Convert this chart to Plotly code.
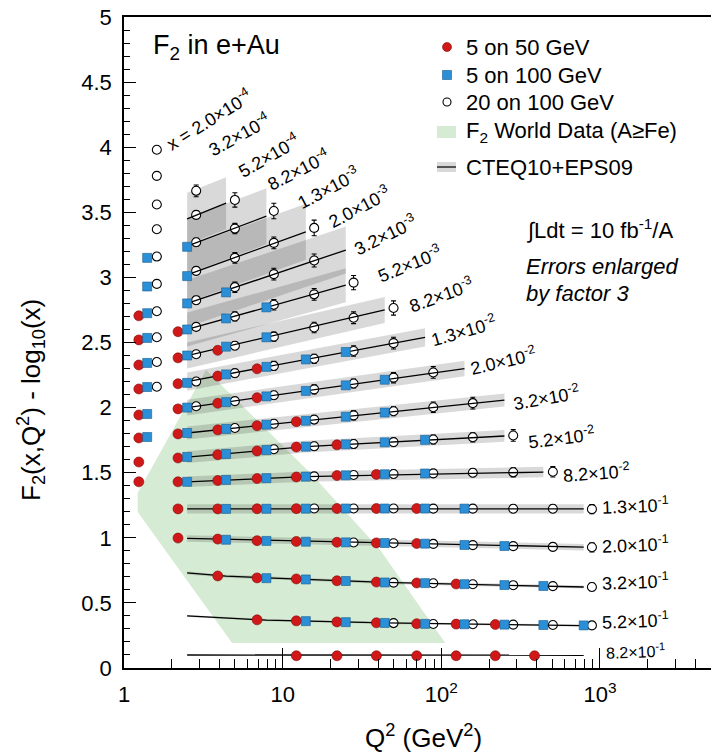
import plotly.graph_objects as go

FONT = "Liberation Sans, Arial, Helvetica, sans-serif"

# ---------------- data ----------------
x_bins = ["2.0×10<sup>-4</sup>", "3.2×10<sup>-4</sup>", "5.2×10<sup>-4</sup>", "8.2×10<sup>-4</sup>",
          "1.3×10<sup>-3</sup>", "2.0×10<sup>-3</sup>", "3.2×10<sup>-3</sup>", "5.2×10<sup>-3</sup>",
          "8.2×10<sup>-3</sup>", "1.3×10<sup>-2</sup>", "2.0×10<sup>-2</sup>", "3.2×10<sup>-2</sup>",
          "5.2×10<sup>-2</sup>", "8.2×10<sup>-2</sup>", "1.3×10<sup>-1</sup>", "2.0×10<sup>-1</sup>",
          "3.2×10<sup>-1</sup>", "5.2×10<sup>-1</sup>", "8.2×10<sup>-1</sup>"]

# 20 on 100 GeV (open circles)
open_q2 = [1.61,
           1.61,
           1.61, 2.85,
           1.61, 2.85, 5.0,
           1.61, 2.85, 5.0, 8.8,
           1.61, 2.85, 5.0, 8.8, 15.8,
           1.61, 2.85, 5.0, 8.8, 15.8,
           1.61, 2.85, 5.0, 8.8, 15.8, 28,
           1.61, 2.85, 5.0, 8.8, 15.8, 28, 50,
           1.61, 2.85, 5.0, 8.8, 15.8, 28, 50,
           2.85, 5.0, 8.8, 15.8, 28, 50, 89,
           5.0, 8.8, 15.8, 28, 50, 89, 158,
           8.8, 15.8, 28, 50, 89, 158, 284,
           15.8, 28, 50, 89, 158, 284, 505,
           15.8, 28, 50, 89, 158, 284, 505, 890,
           28, 50, 89, 158, 284, 505, 890,
           50, 89, 158, 284, 505, 890,
           50, 89, 158, 284, 505, 890]
open_f2 = [3.98,
           3.78,
           3.56, 3.665,
           3.37, 3.48, 3.595,
           3.16, 3.27, 3.375, 3.51,
           2.95, 3.05, 3.15, 3.265, 3.38,
           2.74, 2.825, 2.925, 3.025, 3.13,
           2.54, 2.62, 2.70, 2.79, 2.87, 2.96,
           2.35, 2.41, 2.475, 2.545, 2.615, 2.69, 2.765,
           2.16, 2.20, 2.265, 2.32, 2.375, 2.435, 2.495,
           2.01, 2.05, 2.095, 2.14, 2.185, 2.23, 2.27,
           1.843, 1.876, 1.908, 1.94, 1.972, 2.003, 2.034,
           1.68, 1.703, 1.72, 1.735, 1.755, 1.772, 1.786,
           1.472, 1.482, 1.49, 1.495, 1.50, 1.503, 1.507,
           1.225, 1.225, 1.225, 1.224, 1.224, 1.223, 1.223, 1.22,
           0.964, 0.958, 0.953, 0.944, 0.936, 0.93, 0.927,
           0.656, 0.651, 0.643, 0.636, 0.629, 0.622,
           0.345, 0.338, 0.336, 0.333, 0.33, 0.327]
open_err = [0.012,
            0.012,
            0.012, 0.045,
            0.012, 0.03, 0.055,
            0.012, 0.03, 0.04, 0.06,
            0.012, 0.03, 0.04, 0.045, 0.06,
            0.012, 0.03, 0.04, 0.045, 0.05,
            0.012, 0.025, 0.035, 0.04, 0.045, 0.055,
            0.012, 0.025, 0.03, 0.035, 0.04, 0.045, 0.055,
            0.012, 0.02, 0.03, 0.035, 0.035, 0.04, 0.045,
            0.02, 0.025, 0.03, 0.035, 0.035, 0.04, 0.045,
            0.025, 0.03, 0.03, 0.035, 0.035, 0.04, 0.045,
            0.025, 0.03, 0.03, 0.03, 0.035, 0.035, 0.045,
            0.025, 0.025, 0.03, 0.03, 0.03, 0.035, 0.04,
            0.02, 0.02, 0.02, 0.025, 0.025, 0.03, 0.03, 0.035,
            0.02, 0.02, 0.02, 0.025, 0.025, 0.03, 0.035,
            0.015, 0.015, 0.02, 0.02, 0.025, 0.03,
            0.015, 0.015, 0.015, 0.02, 0.02, 0.025]

# 5 on 100 GeV (blue squares)
blue_q2 = [1.40, 2.5,
           1.40, 2.5,
           1.40, 2.5, 4.4,
           1.40, 2.5, 4.4, 7.9,
           1.40, 2.5, 4.4, 7.9,
           1.40, 2.5, 4.4, 7.9, 14, 25,
           1.40, 2.5, 4.4, 7.9, 14, 25, 44,
           1.40, 2.5, 4.4, 7.9, 14, 25, 44,
           2.5, 4.4, 7.9, 14, 25, 44, 79,
           2.5, 4.4, 7.9, 14, 25, 44, 79,
           4.4, 7.9, 14, 25, 44, 79, 140,
           4.4, 7.9, 14, 25, 44, 79, 140, 250,
           7.9, 14, 25, 44, 79, 140, 250, 440,
           14, 25, 44, 79, 140, 250, 440, 790]
blue_f2 = [3.15, 3.235,
           2.93, 3.01,
           2.725, 2.80, 2.885,
           2.535, 2.60, 2.685, 2.77,
           2.343, 2.40, 2.468, 2.54,
           2.158, 2.19, 2.255, 2.313, 2.37, 2.427,
           1.951, 2.0, 2.042, 2.086, 2.128, 2.171, 2.214,
           1.774, 1.805, 1.836, 1.869, 1.899, 1.93, 1.962,
           1.621, 1.644, 1.674, 1.70, 1.718, 1.733, 1.752,
           1.43, 1.445, 1.458, 1.47, 1.48, 1.488, 1.494,
           1.222, 1.223, 1.224, 1.225, 1.225, 1.225, 1.224,
           0.985, 0.976, 0.97, 0.965, 0.96, 0.955, 0.945, 0.937,
           0.69, 0.68, 0.668, 0.657, 0.652, 0.644, 0.637, 0.63,
           0.36, 0.352, 0.346, 0.339, 0.336, 0.333, 0.33, 0.327]

# 5 on 50 GeV (red circles)
red_q2 = [1.24,
          1.24, 2.19,
          1.24, 2.19, 3.9,
          1.24, 2.19, 3.9, 6.9,
          1.24, 2.19, 3.9, 6.9,
          1.24, 2.19, 3.9, 6.9, 12.2,
          1.24, 2.19, 3.9, 6.9, 12.2, 22,
          1.24, 2.19, 3.9, 6.9, 12.2, 22, 39,
          2.19, 3.9, 6.9, 12.2, 22, 39, 70,
          2.19, 3.9, 6.9, 12.2, 22, 39, 70,
          3.9, 6.9, 12.2, 22, 39, 70, 124,
          6.9, 12.2, 22, 39, 70, 124, 219,
          12.2, 22, 39, 70, 124, 219, 387]
red_f2 = [2.705,
          2.52, 2.583,
          2.327, 2.382, 2.44,
          2.143, 2.183, 2.242, 2.298,
          1.943, 1.99, 2.033, 2.076,
          1.767, 1.798, 1.829, 1.861, 1.892,
          1.582, 1.613, 1.638, 1.667, 1.697, 1.714,
          1.43, 1.43, 1.44, 1.455, 1.467, 1.478, 1.487,
          1.222, 1.222, 1.223, 1.224, 1.225, 1.225, 1.225,
          0.998, 0.99, 0.978, 0.972, 0.966, 0.961, 0.956,
          0.707, 0.692, 0.684, 0.67, 0.66, 0.653, 0.645,
          0.37, 0.362, 0.354, 0.347, 0.34, 0.337, 0.334,
          0.094, 0.094, 0.094, 0.094, 0.094, 0.094, 0.094]

# CTEQ10+EPS09 curves (x bins 8.2e-4 ... 8.2e-1)
theory_q2 = [[2.5, 4.4], [2.5, 7.9], [2.5, 14], [2.5, 25], [2.5, 25], [2.5, 44],
             [2.5, 79], [2.5, 140], [2.5, 250], [2.5, 14, 250], [2.5, 14, 440],
             [2.5, 790], [2.5, 44, 790], [2.5, 4.4, 14, 44, 790], [2.5, 7.9, 44, 790],
             [2.5, 790]]
theory_f2 = [[3.45, 3.57], [3.24, 3.47], [3.02, 3.35], [2.80, 3.21], [2.60, 2.94], [2.40, 2.75],
             [2.20, 2.54], [2.00, 2.30], [1.805, 2.058], [1.62, 1.70, 1.782], [1.43, 1.47, 1.505],
             [1.222, 1.222], [0.995, 0.96, 0.928], [0.73, 0.705, 0.68, 0.657, 0.622],
             [0.40, 0.368, 0.346, 0.325], [0.10, 0.098]]
theory_band = [0.20, 0.215, 0.215, 0.18, 0.13, 0.10, 0.07, 0.06, 0.05, 0.045, 0.04,
               0.035, 0.025, 0.012, 0.008, 0.0]

# F2 world data region (A >= Fe)
world_q2 = [3.29, 15.6, 41.2, 106, 4.8, 1.22, 1.22]
world_f2 = [2.289, 1.475, 0.906, 0.192, 0.192, 1.198, 1.344]

# ---------------- figure ----------------
fig = go.Figure()

fig.add_trace(go.Scatter(x=world_q2 + world_q2[:1], y=world_f2 + world_f2[:1], mode="lines",
                         fill="toself", fillcolor="rgba(120,190,110,0.30)",
                         line=dict(width=0), hoverinfo="skip"))

for q, v, b in zip(theory_q2, theory_f2, theory_band):
    if b <= 0:
        continue
    xs = q + q[::-1]
    ys = [a + b for a in v] + [a - b for a in v[::-1]]
    fig.add_trace(go.Scatter(x=xs + xs[:1], y=ys + ys[:1], mode="lines", fill="toself",
                             fillcolor="rgba(0,0,0,0.15)", line=dict(width=0), hoverinfo="skip"))

fig.add_trace(go.Scatter(x=open_q2, y=open_f2, mode="markers",
                         marker=dict(symbol="circle", size=9, color="white",
                                     line=dict(color="black", width=1.1)),
                         error_y=dict(type="data", array=open_err, color="black",
                                      thickness=1.1, width=2.5)))

for q, v in zip(theory_q2, theory_f2):
    fig.add_trace(go.Scatter(x=q, y=v, mode="lines", line=dict(color="black", width=1.3),
                             hoverinfo="skip"))

fig.add_trace(go.Scatter(x=red_q2, y=red_f2, mode="markers",
                         marker=dict(symbol="circle", size=10, color="#d01818",
                                     line=dict(color="#7a0c0c", width=0.6))))
fig.add_trace(go.Scatter(x=blue_q2, y=blue_f2, mode="markers",
                         marker=dict(symbol="square", size=9, color="#2b8fd8",
                                     line=dict(color="#1a5a8c", width=0.6))))

# ---------------- layout ----------------
L, T, W, H = 124, 17, 587, 651


def px(xp):
    return (xp - L) / W


def py(yp):
    return (T + H - yp) / H


fig.update_layout(
    width=711, height=756, margin=dict(l=L, r=711 - L - W, t=T, b=756 - T - H),
    paper_bgcolor="white", plot_bgcolor="white", showlegend=False,
    font=dict(family=FONT, size=22, color="black"),
    xaxis=dict(type="log", range=[0, 3.70], tickvals=[1, 10, 100, 1000],
               ticktext=["1", "10", "10<sup>2</sup>", "10<sup>3</sup>"],
               ticks="inside", ticklen=20, tickwidth=1.2, tickcolor="black",
               showline=True, linecolor="black", linewidth=1.5, mirror=True,
               showgrid=False, zeroline=False, ticklabelstandoff=6,
               tickfont=dict(size=22),
               minor=dict(ticks="inside", ticklen=9, tickwidth=1, tickcolor="black",
                          dtick="D1", showgrid=False)),
    yaxis=dict(range=[0, 5], dtick=0.5, ticks="inside", ticklen=12, tickwidth=1.2,
               tickcolor="black", showline=True, linecolor="black", linewidth=1.5,
               showgrid=False, zeroline=False, ticklabelstandoff=6,
               tickfont=dict(size=22),
               minor=dict(ticks="inside", ticklen=6, tickwidth=1, tickcolor="black",
                          dtick=0.1, showgrid=False)),
)

ann = []
# axis titles
ann.append(dict(text="F<sub>2</sub>(x,Q<sup>2</sup>) - log<sub>10</sub>(x)", textangle=-90,
                xref="paper", yref="paper", x=px(31), y=py(400), showarrow=False,
                font=dict(size=26), xanchor="center", yanchor="middle"))
ann.append(dict(text="Q<sup>2</sup> (GeV<sup>2</sup>)", xref="paper", yref="paper",
                x=px(423), y=py(736), showarrow=False, font=dict(size=26),
                xanchor="center", yanchor="middle"))
# title & notes
ann.append(dict(text="F<sub>2</sub> in e+Au", xref="paper", yref="paper", x=px(151), y=py(47),
                showarrow=False, font=dict(size=27), xanchor="left", yanchor="middle"))
ann.append(dict(text="∫Ldt = 10 fb<sup>-1</sup>/A", xref="paper", yref="paper", x=px(524),
                y=py(229), showarrow=False, font=dict(size=22), xanchor="left", yanchor="middle"))
ann.append(dict(text="<i>Errors enlarged</i>", xref="paper", yref="paper", x=px(524),
                y=py(266), showarrow=False, font=dict(size=22), xanchor="left", yanchor="middle"))
ann.append(dict(text="<i>by factor 3</i>", xref="paper", yref="paper", x=px(524),
                y=py(293), showarrow=False, font=dict(size=22), xanchor="left", yanchor="middle"))

# legend
leg_text = ["5 on 50 GeV", "5 on 100 GeV", "20 on 100 GeV", "F<sub>2</sub> World Data (A≥Fe)",
            "CTEQ10+EPS09"]
leg_y = [47, 75, 102, 132, 167]
for t, yy in zip(leg_text, leg_y):
    ann.append(dict(text=t, xref="paper", yref="paper", x=px(464), y=py(yy), showarrow=False,
                    font=dict(size=22), xanchor="left", yanchor="middle"))

shapes = []
cx = 447
r = 4.5
shapes.append(dict(type="circle", xref="paper", yref="paper", x0=px(cx - r), x1=px(cx + r),
                   y0=py(47 + r), y1=py(47 - r), fillcolor="#d01818",
                   line=dict(color="#7a0c0c", width=0.6)))
shapes.append(dict(type="rect", xref="paper", yref="paper", x0=px(cx - 4.5), x1=px(cx + 4.5),
                   y0=py(75 + 4.5), y1=py(75 - 4.5), fillcolor="#2b8fd8",
                   line=dict(color="#1a5a8c", width=0.6)))
shapes.append(dict(type="circle", xref="paper", yref="paper", x0=px(cx - 4), x1=px(cx + 4),
                   y0=py(102 + 4), y1=py(102 - 4), fillcolor="white",
                   line=dict(color="black", width=1.1)))
shapes.append(dict(type="rect", xref="paper", yref="paper", x0=px(437), x1=px(456),
                   y0=py(138), y1=py(126), fillcolor="rgba(120,190,110,0.30)",
                   line=dict(width=0)))
shapes.append(dict(type="rect", xref="paper", yref="paper", x0=px(437), x1=px(456),
                   y0=py(172), y1=py(162), fillcolor="rgba(0,0,0,0.15)", line=dict(width=0)))
shapes.append(dict(type="line", xref="paper", yref="paper", x0=px(437), x1=px(456),
                   y0=py(167), y1=py(167), line=dict(color="#333333", width=1.6)))

# x-bin labels (text positions in data coordinates: log10(Q2), F2 - log10 x, angle)
lab_logq2 = [0.535, 0.725, 0.91, 1.1, 1.29, 1.486, 1.65, 1.801, 2.003, 2.142, 2.394,
             2.66, 2.76, 2.981, 3.222, 3.222, 3.222, 3.222, 3.222]
lab_f2 = [4.21, 4.094, 3.94, 3.825, 3.687, 3.541, 3.326, 3.11, 2.865, 2.596, 2.358,
          2.074, 1.774, 1.505, 1.25, 0.95, 0.665, 0.365, 0.13]
lab_angle = [-32, -29, -30, -27, -28, -28, -26, -22, -20, -16, -13, -10, -7, -4, -2, -2, -2, -2, -2]
for i, (t, lx, ly, ang) in enumerate(zip(x_bins, lab_logq2, lab_f2, lab_angle)):
    txt = ("x = " + t) if i == 0 else t
    ann.append(dict(text=txt, xref="x", yref="y", x=lx, y=ly, textangle=ang, showarrow=False,
                    font=dict(size=16 if i == len(x_bins) - 1 else 18),
                    xanchor="center", yanchor="middle"))

fig.update_layout(annotations=ann, shapes=shapes)
fig.write_html("out.html")
